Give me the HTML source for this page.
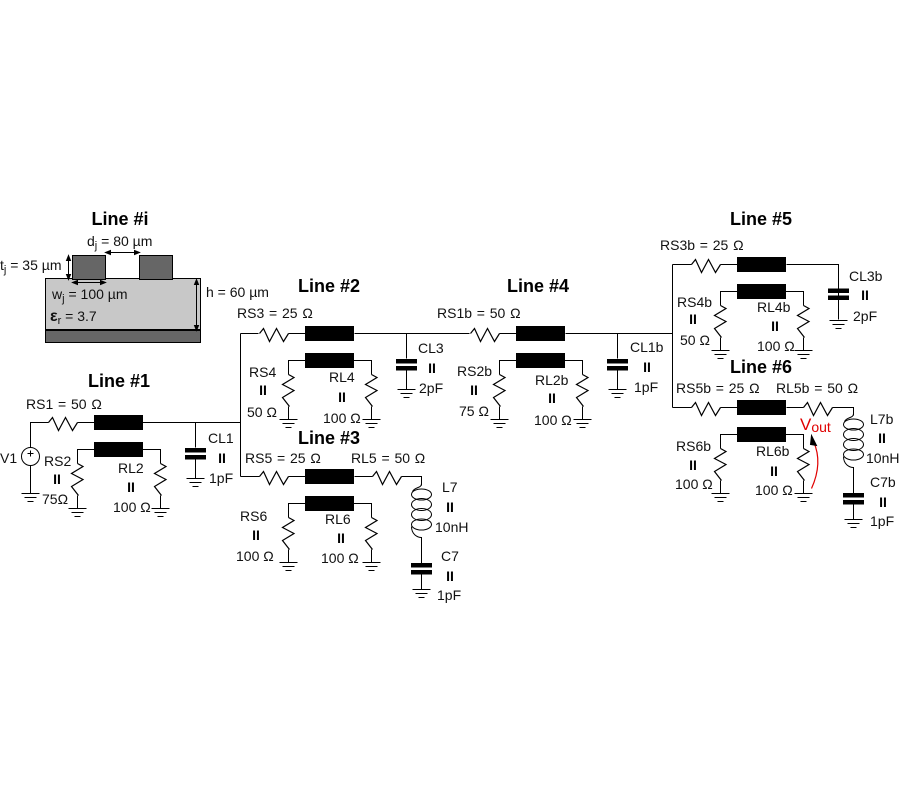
<!DOCTYPE html>
<html><head><meta charset="utf-8"><style>
html,body{margin:0;padding:0;background:#fff}
svg{display:block}
text{font-family:"Liberation Sans",sans-serif;font-size:14px;fill:#111}
.t{font-size:18px;font-weight:bold;text-anchor:middle;fill:#000}
.p{font-size:14px;font-weight:bold;text-anchor:middle;fill:#000}
.s{font-size:11px}
.e{word-spacing:.9px}
</style></head><body>
<svg width="900" height="800" viewBox="0 0 900 800" xmlns="http://www.w3.org/2000/svg">
<defs>
<g id="gnd" stroke="#000" fill="none"><path d="M-9 0H9M-6 4H6M-3 8H3"/></g>
<g id="rh" fill="none" stroke="#000" stroke-width="1.2"><path d="M0 0L4 -5L10 8L17 -5L24 8L29 0"/></g>
<g id="rv" fill="none" stroke="#000" stroke-width="1.2"><path d="M0 0L5.5 3L-6 10L5.5 16L-6 23L1 32"/></g>
<g id="mod">
<path d="M77 422H94" stroke="#000" fill="none"/>
<use href="#rh" x="48" y="422"/>
<rect x="93.5" y="414.5" width="49" height="15" fill="#000"/>
<rect x="93.5" y="441.5" width="49" height="15" fill="#000"/>
<path d="M77 463V449H94M142 449H160V463M77 495V508M160 495V508" stroke="#000" fill="none"/>
<use href="#rv" x="77" y="463"/>
<use href="#rv" x="160" y="463"/>
<use href="#gnd" x="77" y="508"/>
<use href="#gnd" x="160" y="508"/>
</g>
<g id="cap">
<path d="M0 0V25M0 37V56" stroke="#000" fill="none"/>
<rect x="-10.5" y="25.5" width="21" height="4.5" fill="#000"/>
<rect x="-10.5" y="32.5" width="21" height="4.5" fill="#000"/>
<use href="#gnd" x="0" y="56"/>
</g>
<g id="coil">
<path d="M0 -2C0 3,-6 1,-9 6M-10 41C-10 49,-4 52,0 52V78M0 89V104" stroke="#000" fill="none"/>
<g fill="none" stroke="#000">
<ellipse cx="0" cy="9" rx="10" ry="5.5"/>
<ellipse cx="0" cy="19" rx="10" ry="6"/>
<ellipse cx="0" cy="29" rx="10" ry="6"/>
<ellipse cx="0" cy="39" rx="10" ry="5.5"/>
</g>
<rect x="-10.5" y="77.5" width="21" height="4.5" fill="#000"/>
<rect x="-10.5" y="84.5" width="21" height="4.5" fill="#000"/>
<use href="#gnd" x="0" y="104"/>
</g>
</defs>

<g transform="translate(.5 .5)">
<!-- Cross-section -->
<rect x="45" y="278" width="155" height="52" fill="#c8c8c8" stroke="#000"/>
<rect x="45" y="330" width="155" height="12" fill="#666" stroke="#000"/>
<rect x="72" y="255" width="33" height="24" fill="#666" stroke="#000"/>
<rect x="139" y="255" width="33" height="24" fill="#666" stroke="#000"/>
<path d="M45 329.5H200" stroke="#000" stroke-width="2"/>
<g stroke="#000" fill="#000">
<path d="M105 252H139"/><path d="M105 252l5 -2v4zM139 252l-5 -2v4z"/>
<path d="M68 255V279"/><path d="M68 255l-2 5h4zM68 279l-2 -5h4z"/>
<path d="M72 282H105"/><path d="M72 282l5 -2v4zM105 282l-5 -2v4z"/>
<path d="M196 279V330"/><path d="M196 279l-2 5h4zM196 330l-2 -5h4z"/>
</g>

<!-- Main wires -->
<path d="M30 447V422H48M142 422H240M240 333V476M240 333H258M354 333H469M565 333H672M672 264V407M672 264H691M786 264H838V288M672 407H691M786 407H803M240 476H259M354 476H372M401 476H421V485M832 407H853V415M30 465V493" fill="none" stroke="#000"/>
<circle cx="30" cy="456" r="9" fill="#fff" stroke="#000"/>
<path d="M27 453H33M30 450V456" stroke="#000"/>
<use href="#gnd" x="30" y="493"/>

<!-- Modules -->
<use href="#mod"/>
<use href="#mod" transform="translate(211 -89)"/>
<use href="#mod" transform="translate(422 -89)"/>
<use href="#mod" transform="translate(643 -158)"/>
<use href="#mod" transform="translate(211 54)"/>
<use href="#mod" transform="translate(643 -15)"/>

<!-- Capacitors -->
<use href="#cap" x="195" y="422"/>
<use href="#cap" x="406" y="333"/>
<use href="#cap" x="617" y="333"/>
<path d="M838 288V319" stroke="#000"/>
<rect x="827.5" y="288" width="21" height="4.5" fill="#000"/>
<rect x="827.5" y="295" width="21" height="4.5" fill="#000"/>
<use href="#gnd" x="838" y="320"/>

<!-- Extra series resistors and coils -->
<use href="#rh" x="372" y="476"/>
<use href="#rh" x="803" y="407"/>
<use href="#coil" x="421" y="485"/>
<use href="#coil" x="853" y="415"/>

<!-- Vout arrow -->
<path d="M811 488C820 468 818 452 813 441" fill="none" stroke="#e00000" stroke-width="1.2"/>
<path d="M811 435L816 445L810 444Z" fill="#000" stroke="#000"/>
</g>

<!-- Titles -->
<text class="t" x="120" y="225">Line #i</text>
<text class="t" x="119" y="387">Line #1</text>
<text class="t" x="329" y="292">Line #2</text>
<text class="t" x="329" y="444">Line #3</text>
<text class="t" x="538" y="292">Line #4</text>
<text class="t" x="761" y="225">Line #5</text>
<text class="t" x="761" y="373">Line #6</text>

<!-- Cross-section labels -->
<text x="87" y="246">d<tspan class="s" dy="3">j</tspan><tspan dy="-3"> = 80 µm</tspan></text>
<text x="0" y="270">t<tspan class="s" dy="3">j</tspan><tspan dy="-3"> = 35 µm</tspan></text>
<text x="206" y="297">h = 60 µm</text>
<text x="52" y="299">w<tspan class="s" dy="3">j</tspan><tspan dy="-3"> = 100 µm</tspan></text>
<text x="50" y="321"><tspan font-weight="bold" font-size="16">ε</tspan><tspan class="s" dy="3">r</tspan><tspan dy="-3"> = 3.7</tspan></text>

<!-- Line 1 -->
<text x="0" y="463">V1</text>
<text class="e" x="26" y="409">RS1 = 50 Ω</text>
<text x="44" y="466">RS2</text><text class="p" x="57" y="484">II</text><text x="42" y="504">75Ω</text>
<text x="118" y="473">RL2</text><text class="p" x="131" y="492">II</text><text x="113" y="512">100 Ω</text>
<text x="208" y="443">CL1</text><text class="p" x="222" y="463">II</text><text x="209" y="483">1pF</text>

<!-- Line 2 -->
<text class="e" x="237" y="318">RS3 = 25 Ω</text>
<text x="249" y="377">RS4</text><text class="p" x="263" y="395">II</text><text x="247" y="417">50 Ω</text>
<text x="329" y="382">RL4</text><text class="p" x="342" y="402">II</text><text x="323" y="423">100 Ω</text>
<text x="418" y="353">CL3</text><text class="p" x="432" y="373">II</text><text x="419" y="393">2pF</text>

<!-- Line 3 -->
<text class="e" x="245" y="463">RS5 = 25 Ω</text>
<text class="e" x="351" y="463">RL5 = 50 Ω</text>
<text x="240" y="521">RS6</text><text class="p" x="256" y="540">II</text><text x="236" y="561">100 Ω</text>
<text x="325" y="524">RL6</text><text class="p" x="341" y="543">II</text><text x="321" y="563">100 Ω</text>
<text x="442" y="492">L7</text><text class="p" x="450" y="512">II</text><text x="435" y="532">10nH</text>
<text x="441" y="561">C7</text><text class="p" x="450" y="581">II</text><text x="437" y="600">1pF</text>

<!-- Line 4 -->
<text class="e" x="437" y="318">RS1b = 50 Ω</text>
<text x="457" y="376">RS2b</text><text class="p" x="474" y="395">II</text><text x="459" y="416">75 Ω</text>
<text x="535" y="385">RL2b</text><text class="p" x="552" y="403">II</text><text x="534" y="425">100 Ω</text>
<text x="630" y="352">CL1b</text><text class="p" x="647" y="372">II</text><text x="634" y="392">1pF</text>

<!-- Line 5 -->
<text class="e" x="660" y="250">RS3b = 25 Ω</text>
<text x="677" y="307">RS4b</text><text class="p" x="693" y="324">II</text><text x="680" y="345">50 Ω</text>
<text x="757" y="312">RL4b</text><text class="p" x="775" y="331">II</text><text x="757" y="351">100 Ω</text>
<text x="849" y="281">CL3b</text><text class="p" x="865" y="300">II</text><text x="853" y="321">2pF</text>

<!-- Line 6 -->
<text class="e" x="676" y="393">RS5b = 25 Ω</text>
<text class="e" x="776" y="393">RL5b = 50 Ω</text>
<text x="676" y="451">RS6b</text><text class="p" x="693" y="470">II</text><text x="675" y="489">100 Ω</text>
<text x="756" y="456">RL6b</text><text class="p" x="774" y="476">II</text><text x="755" y="495">100 Ω</text>
<text x="870" y="424">L7b</text><text class="p" x="882" y="443">II</text><text x="866" y="463">10nH</text>
<text x="870" y="487">C7b</text><text class="p" x="883" y="507">II</text><text x="870" y="526">1pF</text>
<text x="800" y="430" style="fill:#e00000;font-size:17px">V<tspan dy="2" style="fill:#e00000;font-size:14px">out</tspan></text>
</svg>
</body></html>
